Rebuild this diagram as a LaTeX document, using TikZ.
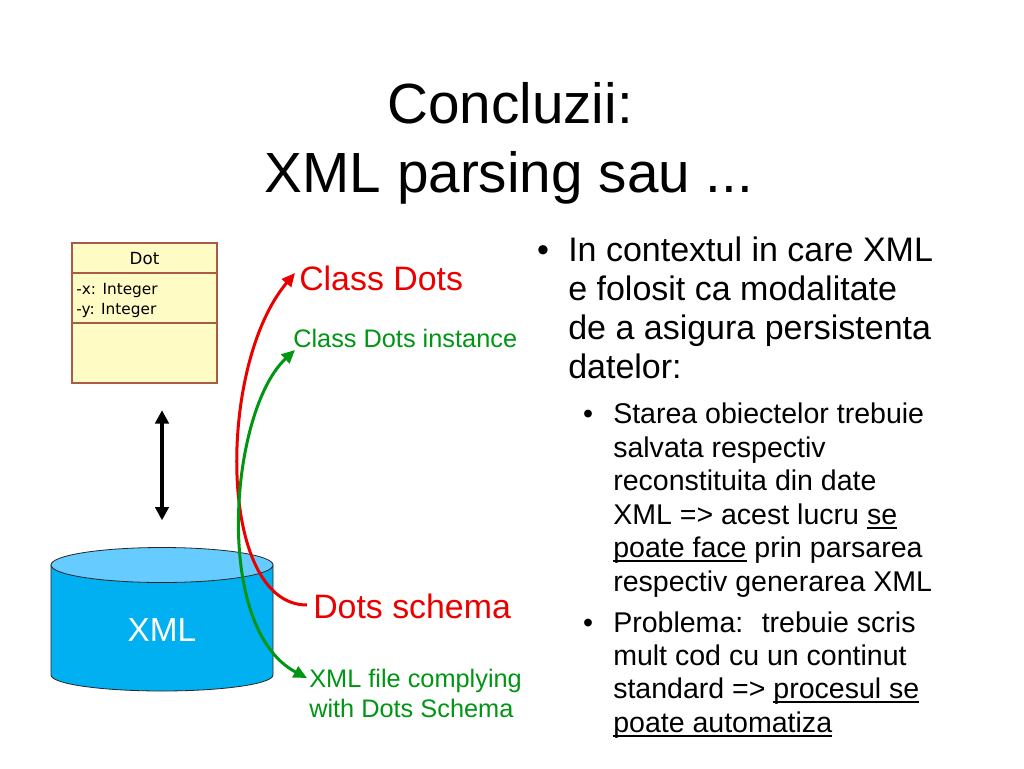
\documentclass[tikz,border=0pt]{standalone}
\usepackage{fontspec}
\setmainfont{Liberation Sans}
\newfontfamily\umlfont{DejaVu Sans}
\usetikzlibrary{arrows.meta}

\definecolor{umlfill}{RGB}{255,251,196}
\definecolor{umledge}{RGB}{168,92,72}
\definecolor{xmlblue}{RGB}{0,176,240}
\definecolor{xmltop}{RGB}{102,204,255}
\definecolor{dotsred}{RGB}{235,0,0}
\definecolor{dotsgreen}{RGB}{0,150,20}

\newsavebox\undlbox
\newcommand\undl[1]{\sbox\undlbox{#1}\rlap{\rule[-3.5pt]{\wd\undlbox}{1.1pt}}\usebox\undlbox}

\tikzset{
  titleline/.style={anchor=base, inner sep=0pt, font=\fontsize{42.5}{50}\selectfont},
  mainline/.style={anchor=base west, inner sep=0pt, font=\fontsize{25.5}{30}\selectfont},
  subline/.style={anchor=base west, inner sep=0pt, font=\fontsize{21.4}{25}\selectfont},
  umltext/.style={anchor=base west, inner sep=0pt, font=\umlfont\fontsize{11.5}{14}\selectfont},
  redlabel/.style={anchor=base west, inner sep=0pt, text=dotsred, font=\fontsize{25.4}{30}\selectfont},
  greenlabel/.style={anchor=base west, inner sep=0pt, text=dotsgreen, font=\fontsize{19}{23}\selectfont},
  redarc/.style={dotsred, line width=2.25pt, -{Triangle[length=10pt, width=9pt]}},
  greenarc/.style={dotsgreen, line width=2.25pt, {Triangle[length=10pt, width=9pt]}-{Triangle[length=10pt, width=9pt]}},
  syncarrow/.style={black, line width=3pt, {Triangle[length=10pt, width=10pt]}-{Triangle[length=10pt, width=10pt]}}
}

\begin{document}
\begin{tikzpicture}[x=0.75pt, y=-0.75pt]
  \useasboundingbox (0,0) rectangle (1024,768);
  \fill[white] (0,0) rectangle (1024,768);

  % Title
  \node[titleline] (title1) at (510,123) {Concluzii:};
  \node[titleline] (title2) at (509,192) {XML parsing sau ...};

  % UML class box
  \node[draw=umledge, fill=umlfill, line width=0.8pt, minimum width=108.75pt,
        minimum height=105pt, inner sep=0pt] (dot) at (144.5,313) {};
  \draw[umledge, line width=0.8pt] (72,273) -- (217,273);
  \draw[umledge, line width=0.8pt] (72,323) -- (217,323);
  \node[umltext, anchor=base, font=\umlfont\fontsize{12.5}{15}\selectfont] (dotname) at (144.5,264) {Dot};
  \node[umltext] (attrx) at (76,294) {-x: Integer};
  \node[umltext] (attry) at (76,314) {-y: Integer};

  % XML store
  \draw[fill=xmlblue, draw=black!85, line width=0.6pt]
       (51,565) -- (51,675) arc[start angle=180, end angle=0, x radius=111, y radius=16]
       -- (273,565) -- cycle;
  \draw[fill=xmltop, draw=black!85, line width=0.6pt]
       (162,565) ellipse[x radius=111, y radius=17.5];
  \node[text=white, font=\fontsize{25}{30}\selectfont] (xml) at (162,630) {XML};
  \coordinate (xmlrim) at (162,547);

  % Mapping arrow
  \draw[syncarrow, shorten <=20pt, shorten >=20pt] (xmlrim |- dot.south) -- (xmlrim);

  % Labels
  \node[redlabel] (classdots) at (299,290) {Class Dots};
  \node[greenlabel] (instance) at (293,347) {Class Dots instance};
  \node[redlabel] (schema) at (313,618) {Dots schema};
  \node[greenlabel] (comply1) at (309,687) {XML file complying};
  \node[greenlabel] (comply2) at (309,717) {with Dots Schema};

  % Curves
  \draw[redarc] ([shift={(-6,-13)}]schema.base west)
       .. controls +(-90,0) and +(-78,92) .. ([shift={(-4,-17)}]classdots.base west);
  \draw[greenarc] ([shift={(2,3)}]instance.base west)
       .. controls +(-65,60) and +(-95,-50) .. ([shift={(-2,-9)}]comply1.base west);

  % Bullets
  \node[mainline, anchor=base] (b1) at (543,261) {•};
  \foreach \yy/\txt in {261/In contextul in care XML, 300/e folosit ca modalitate,
                        339/de a asigura persistenta, 378/datelor:}
    \node[mainline] (m\yy) at (568,\yy) {\txt};

  \node[subline, anchor=base] (b2) at (588,423) {•};
  \foreach \yy/\txt in {423/Starea obiectelor trebuie, 457/salvata respectiv,
                        490/reconstituita din date, 524/XML => acest lucru \undl{se},
                        557/\undl{poate face} prin parsarea, 591/respectiv generarea XML}
    \node[subline] (s\yy) at (613,\yy) {\txt};

  \node[subline, anchor=base] (b3) at (588,632) {•};
  \foreach \yy/\txt in {632/Problema:~ trebuie scris, 665/mult cod cu un continut,
                        698/standard => \undl{procesul se}, 732/\undl{poate automatiza}}
    \node[subline] (s\yy) at (613,\yy) {\txt};
\end{tikzpicture}
\end{document}
